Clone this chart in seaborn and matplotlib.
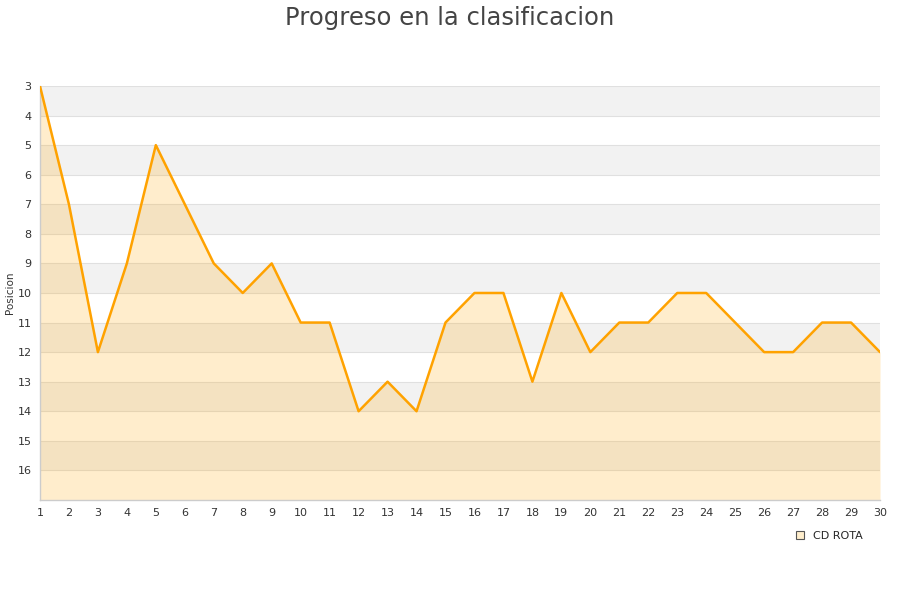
import numpy as np
import pandas as pd
import matplotlib
matplotlib.use("Agg")
import matplotlib.pyplot as plt
import seaborn as sns
from matplotlib.patches import Patch

# jornada / posicion
jornadas = list(range(1, 31))
posiciones = [3, 7, 12, 9, 5, 7, 9, 10, 9, 11, 11, 14, 13, 14, 11,
              10, 10, 13, 10, 12, 11, 11, 10, 10, 11, 12, 12, 11, 11, 12]
equipo = "CD ROTA"

df = pd.DataFrame({"Jornada": jornadas, "Posicion": posiciones})

sns.set_style("white")
plt.rcParams["font.family"] = ["DejaVu Sans"]

fig = plt.figure(figsize=(9, 6), dpi=100)
ax = fig.add_axes([0.0444, 0.1667, 0.9334, 0.69])

y_top, y_bottom = 3, 17

# alternating background bands
for y in range(y_top, y_bottom):
    if (y - y_top) % 2 == 0:
        ax.axhspan(y, y + 1, color="#f2f2f2", zorder=0, lw=0)
    ax.axhline(y, color="#e0e0e0", lw=0.8, zorder=1)

ax.fill_between(df["Jornada"], df["Posicion"], y_bottom,
                color="#ffa500", alpha=0.2, lw=0, zorder=2)
sns.lineplot(data=df, x="Jornada", y="Posicion", color="#ffa200",
             lw=1.8, ax=ax, zorder=3)

ax.set_xlim(1, 30)
ax.set_ylim(y_bottom, y_top)
ax.set_xticks(jornadas)
ax.set_yticks(range(3, 17))
ax.tick_params(axis="both", labelsize=8, colors="#333333", length=0, pad=6)
ax.set_xlabel("")
ax.set_ylabel("Posicion", fontsize=7.5, color="#333333", labelpad=4)
ax.yaxis.set_label_coords(-0.0295, 0.5)

for side in ["top", "right"]:
    ax.spines[side].set_visible(False)
for side in ["left", "bottom"]:
    ax.spines[side].set_color("#cccccc")
    ax.spines[side].set_linewidth(1)

fig.suptitle("Progreso en la clasificacion", fontsize=17.5, color="#444444", y=0.99)

handle = Patch(facecolor="#ffeecc", edgecolor="#555555", lw=0.8, label=equipo)
ax.legend(handles=[handle], loc="upper right", bbox_to_anchor=(0.991, -0.05),
          frameon=False, fontsize=8, handlelength=0.7, handleheight=0.7,
          handletextpad=0.8)

fig.savefig("out.png", dpi=100)
